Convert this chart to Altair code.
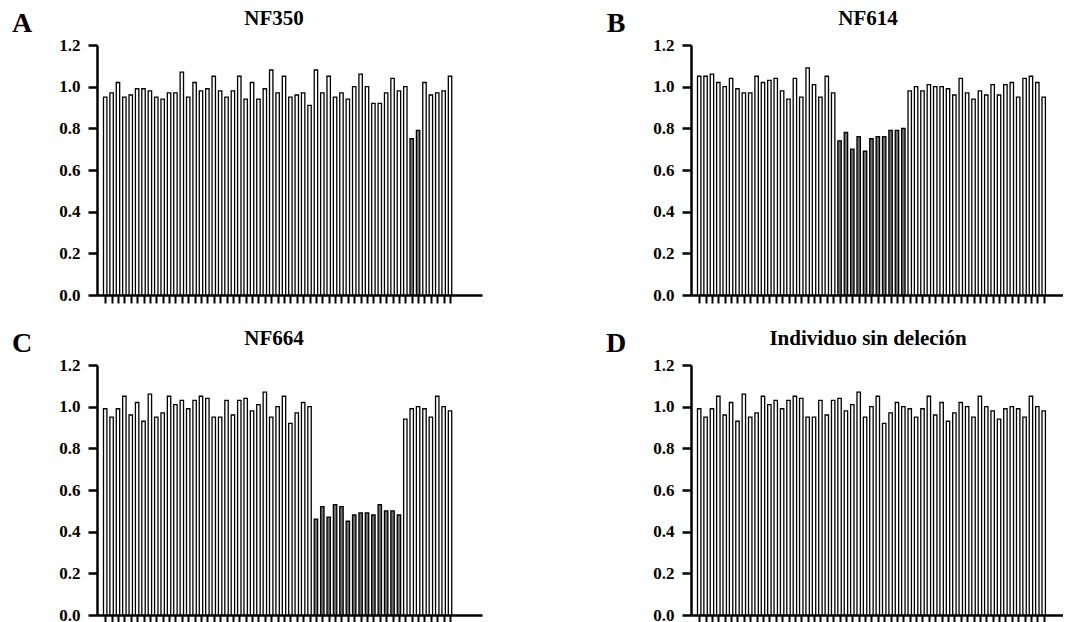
import altair as alt
import pandas as pd

# ---- data ----
titles = ["NF350", "NF614", "NF664", "Individuo sin deleción"]
letters = ["A", "B", "C", "D"]

a_vals = [0.95, 0.97, 1.02, 0.95, 0.96, 0.99, 0.99, 0.98, 0.95, 0.94, 0.97, 0.97, 1.07, 0.95,
          1.02, 0.98, 0.99, 1.05, 0.98, 0.95, 0.98, 1.05, 0.94, 1.02, 0.94, 0.99, 1.08, 0.97,
          1.05, 0.95, 0.96, 0.97, 0.91, 1.08, 0.97, 1.05, 0.95, 0.97, 0.94, 1.00, 1.06, 1.00,
          0.92, 0.92, 0.97, 1.04, 0.98, 1.00, 0.75, 0.79, 1.02, 0.96, 0.97, 0.98, 1.05]
b_vals = [1.05, 1.05, 1.06, 1.02, 1.00, 1.04, 0.99, 0.97, 0.97, 1.05, 1.02, 1.03, 1.04, 0.98,
          0.94, 1.04, 0.95, 1.09, 1.01, 0.95, 1.05, 0.97, 0.74, 0.78, 0.70, 0.76, 0.69, 0.75,
          0.76, 0.76, 0.79, 0.79, 0.80, 0.98, 1.00, 0.98, 1.01, 1.00, 1.00, 0.99, 0.96, 1.04,
          0.97, 0.94, 0.98, 0.96, 1.01, 0.96, 1.01, 1.02, 0.95, 1.04, 1.05, 1.02, 0.95]
c_vals = [0.99, 0.95, 0.99, 1.05, 0.96, 1.02, 0.93, 1.06, 0.95, 0.97, 1.05, 1.01, 1.03, 0.99,
          1.03, 1.05, 1.04, 0.95, 0.95, 1.03, 0.96, 1.03, 1.04, 0.98, 1.01, 1.07, 0.95, 1.00,
          1.05, 0.92, 0.97, 1.02, 1.00, 0.46, 0.52, 0.47, 0.53, 0.52, 0.45, 0.48, 0.49, 0.49,
          0.48, 0.53, 0.50, 0.50, 0.48, 0.94, 0.99, 1.00, 0.99, 0.95, 1.05, 1.00, 0.98]
d_vals = [0.99, 0.95, 0.99, 1.05, 0.96, 1.02, 0.93, 1.06, 0.95, 0.97, 1.05, 1.01, 1.03, 0.99,
          1.03, 1.05, 1.04, 0.95, 0.95, 1.03, 0.96, 1.03, 1.04, 0.98, 1.01, 1.07, 0.95, 1.00,
          1.05, 0.92, 0.97, 1.02, 1.00, 0.99, 0.95, 0.99, 1.05, 0.96, 1.02, 0.93, 0.97, 1.02,
          1.00, 0.95, 1.05, 1.00, 0.98, 0.94, 0.99, 1.00, 0.99, 0.95, 1.05, 1.00, 0.98]
# deleted probe index ranges (inclusive) drawn in dark grey
a_del = [48, 49]
b_del = [22, 32]
c_del = [33, 46]
d_del = None

y_ticks = [0.0, 0.2, 0.4, 0.6, 0.8, 1.0, 1.2]

SERIF = "Liberation Serif"
STEP = 6.556


def panel(vals, dele, title, letter, width, height=250):
    n = len(vals)
    flags = [1 if (dele is not None and dele[0] <= i <= dele[1]) else 0 for i in range(n)]
    df = pd.DataFrame({"probe": list(range(n)), "ratio": vals, "del": flags})
    xmax = -0.5 + width / STEP
    bars = alt.Chart(df).mark_bar(width=3.4, stroke="#000000", strokeWidth=1.3).encode(
        x=alt.X("probe:Q", scale=alt.Scale(domain=[-0.5, xmax], nice=False, zero=False),
                axis=alt.Axis(values=list(range(n)), labels=False, title=None, grid=False,
                              tickSize=8, tickWidth=2, tickColor="black",
                              domainWidth=2.5, domainColor="black")),
        y=alt.Y("ratio:Q", scale=alt.Scale(domain=[0, 1.2], nice=False),
                axis=alt.Axis(values=y_ticks, format=".1f", title=None, grid=False,
                              tickSize=9, tickWidth=2.5, tickColor="black",
                              domainWidth=2.5, domainColor="black",
                              labelFont=SERIF, labelFontSize=17, labelFontWeight="bold",
                              labelColor="black", labelPadding=8)),
        fill=alt.Fill("del:N", scale=alt.Scale(domain=[0, 1], range=["white", "#707070"]),
                      legend=None),
    )
    t = alt.Chart(pd.DataFrame({"t": [title]})).mark_text(
        font=SERIF, fontSize=21, fontWeight="bold", color="black",
        align="center", baseline="middle").encode(
        text="t:N", x=alt.value(177), y=alt.value(-26))
    l = alt.Chart(pd.DataFrame({"t": [letter]})).mark_text(
        font=SERIF, fontSize=28, fontWeight="bold", color="black",
        align="center", baseline="middle").encode(
        text="t:N", x=alt.value(-75), y=alt.value(-21))
    return alt.layer(bars, t, l).properties(width=width, height=height)


pa = panel(a_vals, a_del, titles[0], letters[0], 385)
pb = panel(b_vals, b_del, titles[1], letters[1], 372)
pc = panel(c_vals, c_del, titles[2], letters[2], 385)
pd_ = panel(d_vals, d_del, titles[3], letters[3], 372)

chart = alt.concat(pa, pb, pc, pd_, columns=2, spacing={"row": 70, "column": 209},
                   bounds="flush").properties(
    padding={"left": 11, "top": 8, "right": 0, "bottom": 0},
    background="white",
).configure_view(stroke=None)

chart.save("out.html", embed_options={"renderer": "svg", "actions": False})
